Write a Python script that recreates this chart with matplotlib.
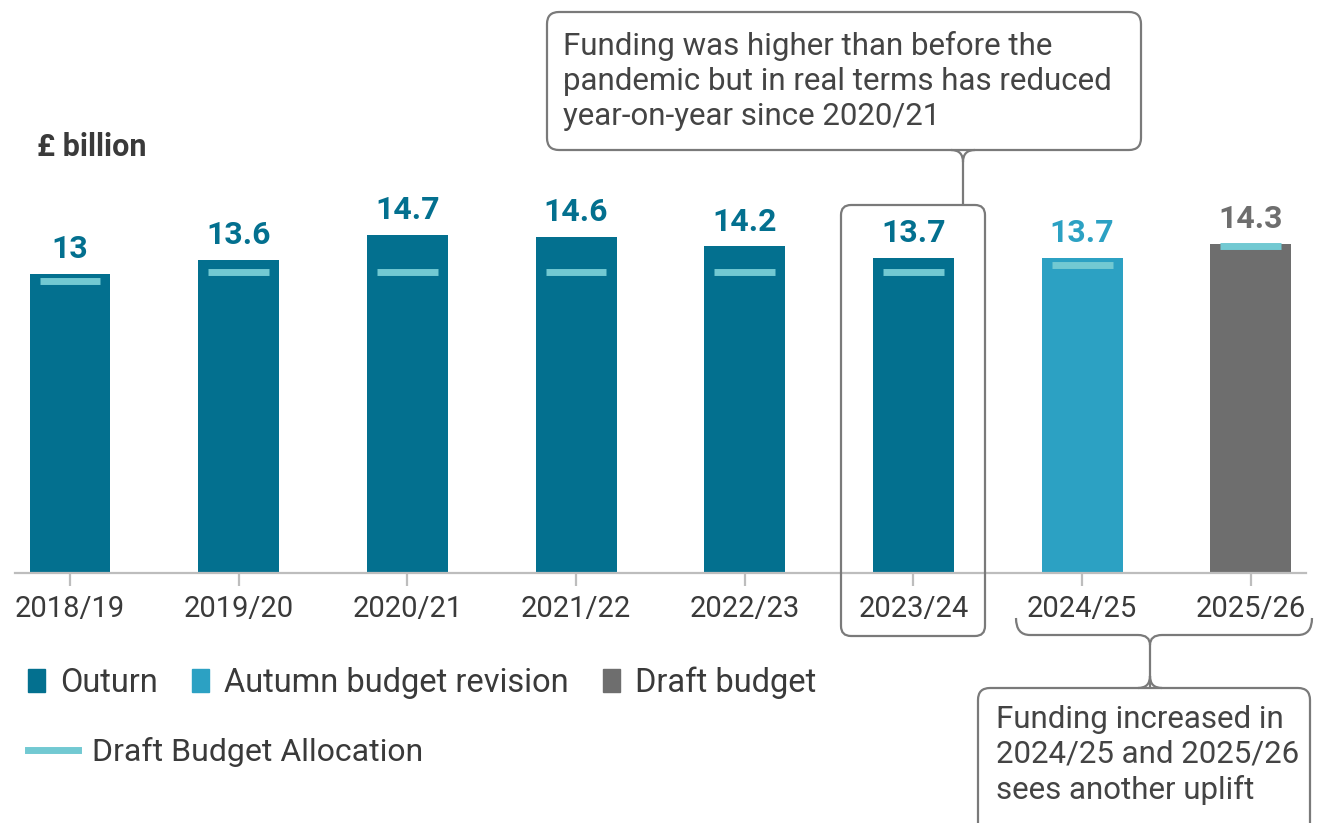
#!/usr/bin/env python3
"""Health funding bar chart with draft budget allocation markers."""

import matplotlib
matplotlib.use("Agg")
import matplotlib.pyplot as plt
from matplotlib.patches import FancyBboxPatch, PathPatch, Patch
from matplotlib.lines import Line2D
from matplotlib.path import Path

years = ["2018/19", "2019/20", "2020/21", "2021/22", "2022/23", "2023/24", "2024/25", "2025/26"]
funding = [13.0, 13.6, 14.7, 14.6, 14.2, 13.7, 13.7, 14.3]
allocation = [12.7, 13.1, 13.1, 13.1, 13.1, 13.1, 13.4, 14.2]
series = ["Outturn", "Outturn", "Outturn", "Outturn", "Outturn", "Outturn", "Autumn", "Draft"]

colours = {"Outturn": "#03708F", "Autumn": "#2CA1C3", "Draft": "#6E6E6E"}
alloc_colour = "#72C9D2"
text_colour = "#3A3A3A"
edge_colour = "#7A7A7A"

W, H = 1320, 823
plt.rcParams["font.family"] = ["Roboto", "DejaVu Sans"]

fig = plt.figure(figsize=(W / 100, H / 100), dpi=100)
ax = fig.add_axes([15 / W, 1 - 573 / H, (1306 - 15) / W, 16 * 23.0 / H])


def px(x, y):
    """Pixel position (from top-left) to figure fraction."""
    return x / W, 1 - y / H


x = list(range(len(years)))
bar_colours = [colours[s] for s in series]
bars = ax.bar(x, funding, width=0.48, color=bar_colours, zorder=2)
ax.hlines(allocation, [i - 0.18 for i in x], [i + 0.18 for i in x],
          color=alloc_colour, lw=5, zorder=3)

for xi, v, c in zip(x, funding, bar_colours):
    label = f"{v:g}"
    ax.annotate(label, (xi, v), xytext=(0, 7), textcoords="offset points",
                ha="center", va="bottom", fontsize=23, fontweight="bold",
                color=c, annotation_clip=False)

ax.set_xlim(-0.326, 7.327)
ax.set_ylim(0, 16)
ax.set_xticks(x)
ax.set_xticklabels(years, fontsize=21, color=text_colour)
ax.set_yticks([])
for side in ("left", "right", "top"):
    ax.spines[side].set_visible(False)
ax.spines["bottom"].set_color("#BDBDBD")
ax.spines["bottom"].set_linewidth(1.6)
ax.tick_params(axis="x", length=9, width=1.6, color="#BDBDBD", pad=7)
ax.patch.set_alpha(0)

fig.text(*px(37, 147), "£ billion", fontsize=22, fontweight="bold",
         color=text_colour, va="center", ha="left")

# legends
bar_handles = [Patch(color=colours["Outturn"], label="Outurn"),
               Patch(color=colours["Autumn"], label="Autumn budget revision"),
               Patch(color=colours["Draft"], label="Draft budget")]
fig.legend(handles=bar_handles, loc="center left", bbox_to_anchor=px(28, 683),
           ncol=3, frameon=False, fontsize=23.5, labelcolor=text_colour,
           handlelength=0.52, handleheight=0.7, handletextpad=0.46,
           columnspacing=1.05, borderaxespad=0, borderpad=0)
line_handle = [Line2D([], [], color=alloc_colour, lw=5, label="Draft Budget Allocation")]
fig.legend(handles=line_handle, loc="center left", bbox_to_anchor=px(28, 752),
           frameon=False, fontsize=23, labelcolor=text_colour,
           handlelength=1.55, handletextpad=0.46, borderaxespad=0, borderpad=0)


def rounded_box(x0, y0, x1, y1, r=12):
    (fx0, fy1), (fx1, fy0) = px(x0, y0), px(x1, y1)
    box = FancyBboxPatch((fx0, fy0), fx1 - fx0, fy1 - fy0,
                         boxstyle=f"round,pad=0,rounding_size={r / W}",
                         transform=fig.transFigure, fill=False,
                         edgecolor=edge_colour, lw=1.6, mutation_aspect=W / H)
    fig.patches.append(box)


def connector(points, codes):
    verts = [px(a, b) for a, b in points]
    fig.patches.append(PathPatch(Path(verts, codes), transform=fig.transFigure,
                                 fill=False, edgecolor=edge_colour, lw=1.6))


M, L, C = Path.MOVETO, Path.LINETO, Path.CURVE3

# callout above the 2023/24 bar
rounded_box(547, 12, 1141, 150)
rounded_box(841, 205, 985, 636, r=10)
connector([(951, 150), (963, 150), (963, 162), (963, 205),
           (975, 150), (963, 150), (963, 162)],
          [M, C, C, L, M, C, C])
fig.text(*px(563, 81), "Funding was higher than before the\n"
         "pandemic but in real terms has reduced\nyear-on-year since 2020/21",
         fontsize=22.5, color="#444444", va="center", ha="left", linespacing=1.27)

# brace under the last two years and callout below
connector([(1016, 618), (1016, 635), (1030, 635), (1138, 635), (1150, 635), (1150, 645),
           (1150, 688),
           (1150, 645), (1150, 635), (1162, 635), (1298, 635), (1312, 635), (1312, 618)],
          [M, C, C, L, C, C, L, M, C, C, L, C, C])
rounded_box(978, 688, 1310, 850)
connector([(1138, 688), (1150, 688), (1150, 676), (1162, 688), (1150, 688), (1150, 676)],
          [M, C, C, M, C, C])
fig.text(*px(996, 755), "Funding increased in\n2024/25 and 2025/26\nsees another uplift",
         fontsize=22.5, color="#444444", va="center", ha="left", linespacing=1.27)

fig.savefig("out.png", dpi=100)
plt.close(fig)
